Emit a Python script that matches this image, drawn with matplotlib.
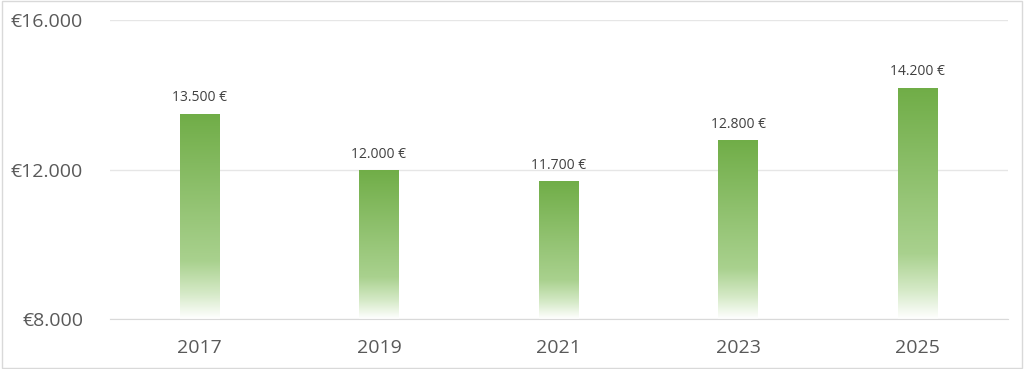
import matplotlib.pyplot as plt
import matplotlib.colors as colors
import numpy as np
from matplotlib.patches import Rectangle, FancyBboxPatch

years = ["2017", "2019", "2021", "2023", "2025"]
prices = [13500, 12000, 11700, 12800, 14200]
y_ticks = [8000, 12000, 16000]
y_tick_labels = ["€8.000", "€12.000", "€16.000"]
bar_labels = ["13.500 €", "12.000 €", "11.700 €", "12.800 €", "14.200 €"]

plt.rcParams['font.family'] = ['Open Sans', 'DejaVu Sans']
text_color = '#595959'

fig = plt.figure(figsize=(10.24, 3.69), dpi=100)
ax = fig.add_axes([0.107, 0.135, 0.877, 0.81])

# outer chart border
fig.patches.append(FancyBboxPatch((0.002, 0.004), 0.996, 0.992, boxstyle="square,pad=0",
                                  transform=fig.transFigure, fill=False,
                                  edgecolor='#d9d9d9', linewidth=1.0))

# green -> white gradient, bottom to top
cmap = colors.LinearSegmentedColormap.from_list(
    'green_fade', [(0.0, '#ffffff'), (0.12, '#d6eac8'), (0.28, '#a9d18e'), (1.0, '#70ad47')])
grad = np.linspace(0, 1, 256).reshape(-1, 1)

x = np.arange(len(years))
width = 0.22
for xi, val, lab in zip(x, prices, bar_labels):
    left = xi - width / 2
    im = ax.imshow(grad, cmap=cmap, origin='lower', aspect='auto',
                   extent=(left, left + width, 8000, val), zorder=2, interpolation='bicubic')
    clip = Rectangle((left, 8000), width, val - 8000, transform=ax.transData)
    im.set_clip_path(clip)
    ax.text(xi, val + 220, lab, ha='center', va='bottom', fontsize=10, color='#404040')

ax.set_xlim(-0.5, len(years) - 0.5)
ax.set_ylim(8000, 16000)
ax.set_xticks(x)
ax.set_xticklabels(years, fontsize=14, color=text_color)
ax.set_yticks(y_ticks)
ax.set_yticklabels(y_tick_labels, fontsize=14, color=text_color)
ax.tick_params(axis='x', length=0, pad=14)
ax.tick_params(axis='y', length=0, pad=19)

ax.grid(axis='y', color='#e6e6e6', linewidth=1, zorder=0)
for s in ['top', 'right', 'left']:
    ax.spines[s].set_visible(False)
ax.spines['bottom'].set_color('#d9d9d9')
ax.set_axisbelow(True)

fig.savefig('out.png', dpi=100)
